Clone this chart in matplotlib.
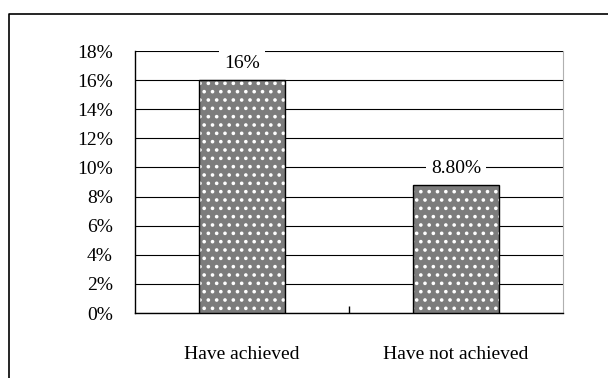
import matplotlib.pyplot as plt
from matplotlib.lines import Line2D

categories = ['Have achieved', 'Have not achieved']
values = [16, 8.8]
value_labels = ['16%', '8.80%']
y_ticks = [0, 2, 4, 6, 8, 10, 12, 14, 16, 18]

plt.rcParams['font.family'] = ['Liberation Serif', 'DejaVu Serif']
plt.rcParams['hatch.linewidth'] = 1.4

fig = plt.figure(figsize=(6.08, 3.78), dpi=100)
ax = fig.add_axes([135 / 608, 65 / 378, 428 / 608, 262 / 378])

x = list(range(len(categories)))
# patterned fill, then a black outline on top
ax.bar(x, values, width=0.4, color='#7c7c7c', edgecolor='white', hatch='..',
       linewidth=0, zorder=3)
ax.bar(x, values, width=0.4, fill=False, edgecolor='black', linewidth=1, zorder=4)

for xi, v, lab in zip(x, values, value_labels):
    ax.annotate(lab, (xi, v), xytext=(0, 6), textcoords='offset points',
                ha='center', va='bottom', fontsize=14,
                bbox=dict(boxstyle='square,pad=0.25', fc='white', ec='none'),
                zorder=5)

ax.set_xlim(-0.5, 1.5)
ax.set_ylim(0, 18)
ax.set_yticks(y_ticks)
ax.set_yticklabels(['{}%'.format(t) for t in y_ticks], fontsize=14)
ax.yaxis.grid(True, color='black', linewidth=0.8, zorder=0)
ax.tick_params(axis='y', length=0, pad=16)

ax.set_xticks(x)
ax.set_xticklabels(categories, fontsize=14)
ax.tick_params(axis='x', length=0, pad=24)
ax.set_xticks([0.5], minor=True)
ax.tick_params(axis='x', which='minor', direction='in', length=5, width=1)

ax.spines['top'].set_visible(False)
ax.spines['right'].set_color('#b0b0b0')
ax.spines['left'].set_linewidth(1)
ax.spines['bottom'].set_linewidth(1)

# outer chart border (left and top edges visible)
fig.add_artist(Line2D([9 / 608, 9 / 608, 1.0], [0.0, 1 - 14 / 378, 1 - 14 / 378],
                      transform=fig.transFigure, color='black', linewidth=1.2))

fig.savefig('out.png', dpi=100)
